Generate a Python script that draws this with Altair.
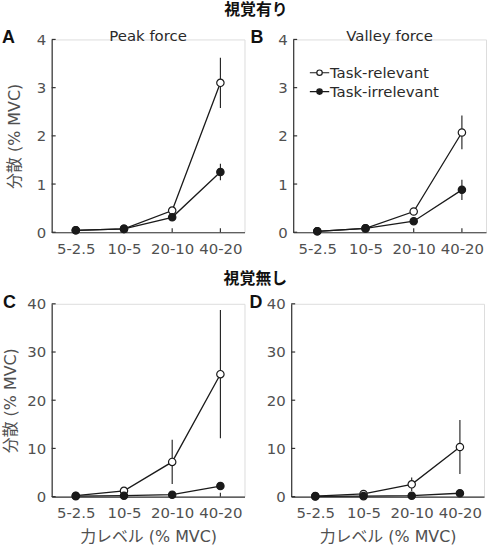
import altair as alt
import pandas as pd

cats = ["5-2.5", "10-5", "20-10", "40-20"]
series = ["Task-relevant", "Task-irrelevant"]

peak_rel = [0.04, 0.07, 0.45, 3.10]
peak_rel_err = [0.0, 0.0, 0.05, 0.52]
peak_irr = [0.04, 0.07, 0.31, 1.25]
peak_irr_err = [0.0, 0.0, 0.03, 0.17]

valley_rel = [0.02, 0.08, 0.43, 2.07]
valley_rel_err = [0.0, 0.01, 0.05, 0.35]
valley_irr = [0.02, 0.08, 0.23, 0.88]
valley_irr_err = [0.0, 0.01, 0.03, 0.21]

nv_peak_rel = [0.2, 1.2, 7.2, 25.4]
nv_peak_rel_err = [0.1, 0.4, 4.6, 13.3]
nv_peak_irr = [0.1, 0.2, 0.4, 2.2]
nv_peak_irr_err = [0.0, 0.05, 0.2, 0.4]

nv_valley_rel = [0.1, 0.55, 2.55, 10.3]
nv_valley_rel_err = [0.05, 0.2, 1.4, 5.6]
nv_valley_irr = [0.05, 0.1, 0.2, 0.7]
nv_valley_irr_err = [0.0, 0.05, 0.1, 0.2]

ticks_top = [0, 1, 2, 3, 4]
ticks_bottom = [0, 10, 20, 30, 40]

FONT = "DejaVu Sans, Noto Sans CJK JP, sans-serif"
BFONT = "Liberation Sans, Noto Sans CJK JP, sans-serif"
W = 194
H = 194
AX = "#333333"
LAB = "#505050"
FS = 15


def frame(rel, rel_err, irr, irr_err):
    rows = []
    for s, vals, errs in [(series[0], rel, rel_err), (series[1], irr, irr_err)]:
        for c, v, e in zip(cats, vals, errs):
            rows.append({"cat": c, "series": s, "value": v, "lo": v - e, "hi": v + e})
    return pd.DataFrame(rows)


LEG_PATH = ("M-1,0H-0.28M0.28,0H1M0.28,0A0.28,0.28,0,1,1,-0.28,0"
            "A0.28,0.28,0,1,1,0.28,0Z")


def panel(df, ymax, yticks, letter, letter_x, subtitle, ytitle, xtitle, legend, ytp):
    xs = alt.Scale(type="point", domain=cats, padding=0.5)
    ys = alt.Scale(domain=[0, ymax], nice=False, zero=True)
    x_axis_kw = dict(labelAngle=0, ticks=False, grid=False, domainColor=AX,
                     domainWidth=1.2, labelFont=FONT, labelFontSize=FS,
                     labelColor=LAB, labelPadding=9, titleFont=FONT,
                     titleFontSize=16, titleColor=LAB, titleFontWeight="normal",
                     titlePadding=8)
    if xtitle:
        x_axis = alt.Axis(title=xtitle, **x_axis_kw)
    else:
        x_axis = alt.Axis(title=None, **x_axis_kw)
    y_axis_kw = dict(values=yticks, ticks=False, grid=False, domainColor=AX,
                     domainWidth=1.2, labelFont=FONT, labelFontSize=FS,
                     labelColor=LAB, labelPadding=6, titleFont=FONT,
                     titleFontSize=16, titleColor=LAB, titleFontWeight="normal",
                     titlePadding=ytp)
    if ytitle:
        y_axis = alt.Axis(title=ytitle, **y_axis_kw)
    else:
        y_axis = alt.Axis(title=None, **y_axis_kw)

    x = alt.X("cat:O", scale=xs, sort=cats, axis=x_axis)
    y = alt.Y("value:Q", scale=ys, axis=y_axis)
    base = alt.Chart(df)

    line = base.mark_line(color="#1a1a1a", strokeWidth=1.3).encode(
        x=x, y=y, detail="series:N")
    err = base.mark_rule(color="#1a1a1a", strokeWidth=1.1).encode(
        x=x, y=alt.Y("lo:Q", scale=ys, axis=y_axis), y2="hi:Q")
    if legend:
        leg = alt.Legend(orient="none", legendX=16, legendY=23, title=None,
                         symbolType=LEG_PATH, symbolSize=380,
                         symbolStrokeColor="#1a1a1a", symbolStrokeWidth=1.2,
                         symbolOpacity=1, labelFont=FONT, labelFontSize=FS,
                         labelColor="#2a2a2a", labelOffset=0, rowPadding=0,
                         padding=0)
        fill = alt.Fill("series:N", scale=alt.Scale(domain=series, range=["white", "#1a1a1a"]),
                        legend=leg)
    else:
        fill = alt.Fill("series:N", scale=alt.Scale(domain=series, range=["white", "#1a1a1a"]),
                        legend=None)
    pts = base.mark_point(shape="circle", size=55, stroke="#1a1a1a", strokeWidth=1.2,
                          opacity=1, fillOpacity=1).encode(x=x, y=y, fill=fill)

    ytk = alt.Chart(pd.DataFrame({"t": yticks})).mark_rule(color=AX, strokeWidth=1.2).encode(
        y=alt.Y("t:Q", scale=ys, axis=y_axis), x=alt.value(0), x2=alt.value(4))
    xtk = alt.Chart(pd.DataFrame({"c": cats})).mark_rule(color=AX, strokeWidth=1.2).encode(
        x=alt.X("c:O", scale=xs, sort=cats, axis=x_axis), y=alt.value(H), y2=alt.value(H - 4))

    let = alt.Chart(pd.DataFrame({"t": [letter]})).mark_text(
        font=BFONT, fontSize=18, fontWeight="bold", color="#111111", align="left",
        baseline="alphabetic").encode(text="t:N", x=alt.value(letter_x), y=alt.value(4))
    layers = [line, err, ytk, xtk, pts, let]
    if subtitle:
        sub = alt.Chart(pd.DataFrame({"t": [subtitle]})).mark_text(
            font=FONT, fontSize=FS, color="#2a2a2a", align="center",
            baseline="alphabetic").encode(text="t:N", x=alt.value(W / 2), y=alt.value(2))
        layers.append(sub)
    return alt.layer(*layers).properties(width=W, height=H)


A = panel(frame(peak_rel, peak_rel_err, peak_irr, peak_irr_err), 4, ticks_top,
          "A", -50, "Peak force", "分散 (% MVC)", None, False, 14)
B = panel(frame(valley_rel, valley_rel_err, valley_irr, valley_irr_err), 4, ticks_top,
          "B", -43, "Valley force", None, None, True, 14)
C = panel(frame(nv_peak_rel, nv_peak_rel_err, nv_peak_irr, nv_peak_irr_err), 40, ticks_bottom,
          "C", -49, None, "分散 (% MVC)", "力レベル (% MVC)", False, 8)
D = panel(frame(nv_valley_rel, nv_valley_rel_err, nv_valley_irr, nv_valley_irr_err), 40,
          ticks_bottom, "D", -42, None, None, "力レベル (% MVC)", False, 8)


def row_title(text, off):
    return alt.TitleParams(text, font=BFONT, fontSize=16, fontWeight="bold",
                           color="#111111", anchor="middle", offset=off, dx=12)


row1 = alt.hconcat(A, B, spacing=4, title=row_title("視覚有り", 11)).resolve_scale(
    fill="independent")
row2 = alt.hconcat(C, D, spacing=3, title=row_title("視覚無し", 6)).resolve_scale(
    fill="independent")

chart = alt.vconcat(row1, row2, spacing=14).resolve_scale(fill="independent").properties(
    padding={"left": 1, "top": 0, "right": 0, "bottom": 0}
).configure_view(stroke=None).configure(background="white")

chart.save("out.html", embed_options={"renderer": "svg", "actions": False})
